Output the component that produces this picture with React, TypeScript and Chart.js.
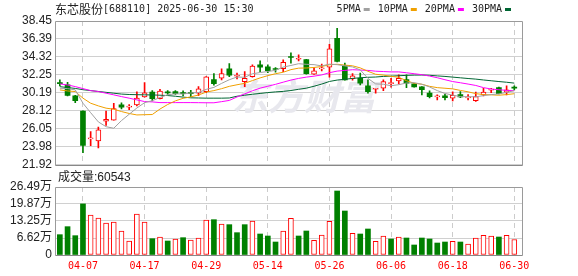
import React, { useEffect, useRef } from 'react';
import { Chart, registerables } from 'chart.js';

Chart.register(...registerables);

const STOCK_NAME = '东芯股份';
const STOCK_CODE = '688110';
const DATE_TIME = '2025-06-30 15:30';

const DATES = [
  '04-01', '04-02', '04-03', '04-07', '04-08', '04-09', '04-10', '04-11', '04-14', '04-15',
  '04-16', '04-17', '04-18', '04-21', '04-22', '04-23', '04-24', '04-25', '04-28', '04-29',
  '04-30', '05-06', '05-07', '05-08', '05-09', '05-12', '05-13', '05-14', '05-15', '05-16',
  '05-19', '05-20', '05-21', '05-22', '05-23', '05-26', '05-27', '05-28', '05-29', '05-30',
  '06-03', '06-04', '06-05', '06-06', '06-09', '06-10', '06-11', '06-12', '06-13', '06-16',
  '06-17', '06-18', '06-19', '06-20', '06-23', '06-24', '06-25', '06-26', '06-27', '06-30',
];

const OPEN = [
  31.35, 31.1, 29.85, 28.1, 24.9, 24.67, 26.93, 27.05, 28.81, 28.55,
  28.81, 29.73, 30.27, 29.53, 30.25, 30.34, 30.2, 30.15, 30.15, 30.34,
  31.72, 31.87, 32.94, 32.1, 31.48, 32.06, 33.4, 33.17, 32.92, 32.98,
  34.3, 34.05, 34.01, 32.33, 32.95, 33.13, 36.46, 33.32, 31.83, 31.87,
  30.99, 30.6, 30.72, 31.25, 31.56, 31.72, 31.22, 30.87, 30.15, 29.72,
  29.84, 29.58, 29.99, 29.62, 29.3, 29.96, 30.5, 30.8, 30.27, 30.78,
];
const CLOSE = [
  31.25, 29.9, 29.3, 24.15, 24.95, 25.94, 27.16, 28.38, 28.55, 28.6,
  29.58, 30.19, 29.53, 30.38, 30.18, 30.11, 30.1, 30.1, 30.64, 32.02,
  31.25, 32.4, 32.21, 32.15, 31.87, 33.28, 33.13, 32.75, 32.88, 33.71,
  34.25, 34.1, 32.4, 32.71, 33.0, 35.24, 33.8, 31.68, 32.14, 31.3,
  30.34, 30.65, 31.48, 31.3, 31.87, 31.3, 30.87, 30.56, 29.76, 29.76,
  29.65, 29.92, 29.73, 29.66, 29.76, 30.27, 30.55, 30.11, 30.53, 30.74,
];
const HIGH = [
  31.68, 31.4, 29.9, 28.12, 25.74, 26.25, 28.1, 29.0, 29.05, 28.85,
  30.3, 31.37, 30.45, 30.6, 30.45, 30.45, 30.42, 30.49, 30.91, 32.05,
  32.4, 32.94, 33.55, 32.45, 32.65, 33.4, 33.86, 33.4, 33.09, 34.0,
  34.78, 34.55, 34.05, 33.1, 33.5, 35.77, 37.6, 33.6, 32.4, 32.45,
  31.68, 30.72, 31.68, 31.87, 32.25, 32.25, 31.25, 30.9, 30.41, 29.96,
  30.03, 30.3, 30.34, 29.99, 30.27, 30.72, 30.72, 30.85, 30.99, 30.99,
];
const LOW = [
  31.0, 29.85, 29.05, 23.3, 24.13, 23.85, 26.45, 27.05, 28.35, 28.25,
  28.7, 29.7, 29.25, 29.5, 30.0, 30.0, 29.85, 29.76, 29.87, 30.2,
  31.07, 31.68, 32.06, 31.8, 30.9, 32.0, 32.63, 32.5, 32.56, 32.63,
  33.6, 33.86, 32.35, 32.3, 32.7, 32.0, 33.75, 31.65, 31.64, 31.1,
  30.15, 30.15, 30.45, 30.85, 31.22, 30.8, 30.85, 29.96, 29.6, 29.38,
  29.38, 29.27, 29.65, 29.38, 29.2, 29.84, 30.22, 30.08, 29.96, 30.53,
];

const MA5 = [
  30.72, 30.68, 30.53, 29.0, 27.91, 26.85, 26.3, 26.12, 27.0, 27.73,
  28.45, 29.06, 29.29, 29.66, 29.97, 30.08, 30.06, 30.17, 30.23, 30.59,
  30.82, 31.28, 31.7, 32.01, 31.98, 32.38, 32.53, 32.64, 32.78, 33.15,
  33.34, 33.54, 33.47, 33.43, 33.29, 33.49, 33.43, 33.29, 33.17, 32.83,
  31.85, 31.22, 31.18, 31.01, 31.13, 31.32, 31.36, 31.18, 30.87, 30.45,
  30.12, 29.93, 29.76, 29.74, 29.74, 29.87, 29.99, 30.07, 30.24, 30.44,
];
const MA10 = [
  30.53, 30.41, 30.34, 29.58, 29.0, 28.69, 28.43, 28.31, 28.04, 27.82,
  27.65, 27.68, 27.7, 28.33, 28.85, 29.27, 29.56, 29.73, 29.94, 30.28,
  30.45, 30.67, 30.94, 31.12, 31.29, 31.6, 31.91, 32.17, 32.39, 32.56,
  32.86, 33.03, 33.05, 33.11, 33.22, 33.42, 33.48, 33.38, 33.3, 33.06,
  32.67, 32.33, 32.23, 32.09, 31.98, 31.59, 31.29, 31.18, 30.94, 30.79,
  30.72, 30.65, 30.47, 30.31, 30.1, 29.99, 29.96, 29.92, 29.99, 30.09,
];
const MA20 = [
  31.22, 31.1, 30.91, 30.68, 30.45, 30.34, 30.15, 29.96, 29.76, 29.58,
  29.38, 29.19, 29.15, 29.07, 29.07, 29.07, 29.07, 29.07, 29.06, 29.05,
  29.05, 29.18, 29.32, 29.72, 30.07, 30.43, 30.73, 30.95, 31.17, 31.42,
  31.66, 31.85, 32.0, 32.11, 32.25, 32.51, 32.69, 32.77, 32.85, 32.81,
  32.77, 32.68, 32.64, 32.6, 32.6, 32.5, 32.39, 32.28, 32.12, 31.93,
  31.7, 31.49, 31.35, 31.2, 31.04, 30.79, 30.63, 30.55, 30.47, 30.44,
];
const MA30 = [
  30.9, 30.8, 30.7, 30.55, 30.45, 30.35, 30.25, 30.15, 30.05, 30.0,
  29.98, 29.96, 29.95, 29.92, 29.88, 29.8, 29.7, 29.62, 29.6, 29.58,
  29.58, 29.58, 29.6, 29.8, 29.92, 30.03, 30.12, 30.22, 30.3, 30.36,
  30.46, 30.6, 30.73, 30.95, 31.2, 31.5, 31.66, 31.75, 31.85, 31.93,
  31.98, 32.01, 32.08, 32.11, 32.16, 32.2, 32.23, 32.24, 32.21, 32.14,
  32.08, 32.0, 31.92, 31.84, 31.77, 31.67, 31.58, 31.49, 31.41, 31.31,
];

// volume in 万 (10k)
const VOLUME = [
  7.92, 11.04, 7.53, 19.9, 15.58, 14.41, 12.47, 12.86, 9.35, 5.45,
  15.97, 12.86, 6.36, 7.01, 5.45, 6.23, 6.75, 5.84, 6.62, 13.63,
  13.76, 12.08, 11.82, 8.7, 11.82, 13.24, 8.18, 7.4, 5.06, 9.35,
  14.28, 7.4, 9.35, 5.71, 7.79, 13.11, 24.93, 17.14, 8.44, 8.18,
  10.13, 5.32, 7.4, 6.23, 7.01, 6.62, 3.9, 6.62, 6.23, 4.67,
  5.06, 5.32, 5.06, 4.29, 6.62, 7.66, 7.4, 7.01, 7.66, 6.0543,
];
// 1 = up (red), 0 = down (green)
const VOLUME_UP = [
  0, 0, 0, 0, 1, 1, 1, 1, 1, 1,
  1, 1, 0, 1, 0, 1, 0, 1, 1, 1,
  0, 1, 0, 0, 0, 1, 0, 0, 0, 1,
  1, 0, 0, 1, 1, 1, 0, 0, 1, 0,
  0, 1, 1, 0, 1, 0, 0, 0, 0, 0,
  0, 1, 0, 1, 1, 1, 1, 0, 1, 1,
];

const PRICE_TICKS = [21.92, 23.98, 26.05, 28.12, 30.19, 32.25, 34.32, 36.39, 38.45];
const VOLUME_TICKS = [0, 6.62, 13.25, 19.87, 26.49];
const X_LABEL_DATES = ['04-07', '04-17', '04-29', '05-14', '05-26', '06-06', '06-18', '06-30'];

const MA_NAMES = ['5PMA', '10PMA', '20PMA', '30PMA'];
const MA_SERIES = [MA5, MA10, MA20, MA30];
const MA_COLORS = ['#a0a0a0', '#f0a000', '#ff00ff', '#006633'];

const RED = '#ff0000';
const GREEN = '#008000';
const TEXT = '#222222';
const SANS = '"Liberation Sans", Arial, "Noto Sans CJK SC", sans-serif';
const MONO = '"DejaVu Sans Mono", monospace';

const framePlugin = {
  id: 'frame',
  afterDatasetsDraw(chart: any) {
    const { ctx, chartArea: a } = chart;
    const l = Math.round(a.left) - 0.5;
    const r = Math.round(a.right) + 0.5;
    const t = Math.round(a.top) + 0.5;
    const b = Math.round(a.bottom) + 0.5;
    ctx.save();
    ctx.lineWidth = 1;
    ctx.strokeStyle = '#9a9a9a';
    ctx.beginPath();
    ctx.moveTo(l, b);
    ctx.lineTo(l, t);
    ctx.lineTo(r, t);
    ctx.lineTo(r, b);
    ctx.stroke();
    ctx.strokeStyle = '#888888';
    ctx.beginPath();
    ctx.moveTo(l, b);
    ctx.lineTo(r, b);
    ctx.stroke();
    ctx.restore();
  },
};

const makeX = (showLabels: boolean, height: number) => ({
  type: 'linear',
  min: -0.5,
  max: DATES.length,
  offset: false,
  afterBuildTicks: (scale: any) => {
    scale.ticks = X_LABEL_DATES.map((d) => ({ value: DATES.indexOf(d) }));
  },
  afterFit: (scale: any) => {
    scale.height = height;
  },
  grid: { color: '#cccccc', offset: false, drawTicks: false, lineWidth: 1 },
  border: { display: false, dash: [5, 4] },
  ticks: {
    display: showLabels,
    autoSkip: false,
    maxRotation: 0,
    minRotation: 0,
    padding: 5,
    color: RED,
    font: { family: MONO, size: 10 },
    callback: (v: any) => DATES[v] ?? '',
  },
});

const makeY = (ticks: number[], fmt: (v: number) => string) => ({
  type: 'linear',
  min: ticks[0],
  max: ticks[ticks.length - 1],
  afterBuildTicks: (scale: any) => {
    scale.ticks = ticks.map((v) => ({ value: v }));
  },
  afterFit: (scale: any) => {
    scale.width = 56;
  },
  grid: { color: '#d0d0d0', drawTicks: false },
  border: { display: false },
  ticks: {
    autoSkip: false,
    padding: 4,
    color: TEXT,
    font: { family: SANS, size: 12 },
    callback: (v: any) => fmt(Number(v)),
  },
});

export default function App() {
  const priceRef = useRef<HTMLCanvasElement>(null);
  const volRef = useRef<HTMLCanvasElement>(null);

  useEffect(() => {
    const up = OPEN.map((o, i) => CLOSE[i] >= o);

    const titlePlugin = {
      id: 'titleLegend',
      afterDraw(chart: any) {
        const ctx = chart.ctx;
        ctx.save();
        ctx.textBaseline = 'middle';
        ctx.textAlign = 'left';
        ctx.fillStyle = TEXT;
        ctx.font = '12px "Noto Sans CJK SC"';
        ctx.fillText(STOCK_NAME, 55, 9.5);
        const w = ctx.measureText(STOCK_NAME).width;
        ctx.font = '10px ' + MONO;
        ctx.fillText(`[${STOCK_CODE}] ${DATE_TIME}`, 55 + w, 9.5);

        // legend: text then colour swatch
        const sq = 6;
        const gapT = 3;
        const gapI = 8;
        const widths = MA_NAMES.map((n) => ctx.measureText(n).width);
        const total = widths.reduce((s, wd) => s + wd + gapT + sq, 0) + gapI * (MA_NAMES.length - 1);
        let x = chart.chartArea.right - 11 - total;
        MA_NAMES.forEach((n, i) => {
          ctx.fillStyle = TEXT;
          ctx.fillText(n, x, 9);
          x += widths[i] + gapT;
          ctx.fillStyle = MA_COLORS[i];
          ctx.fillRect(x, 8, sq, 3);
          x += sq + gapI;
        });
        ctx.restore();
      },
    };

    const watermarkPlugin = {
      id: 'watermark',
      beforeDatasetsDraw(chart: any) {
        const ctx = chart.ctx;
        ctx.save();
        ctx.font = 'italic bold 36px "Noto Sans CJK SC"';
        ctx.fillStyle = '#e8e8ee';
        ctx.textBaseline = 'middle';
        ctx.textAlign = 'left';
        ctx.fillText('东方财富', 232, 96);
        ctx.restore();
      },
    };

    const priceChart = new Chart(priceRef.current as HTMLCanvasElement, {
      type: 'bar',
      data: {
        datasets: [
          ...MA_SERIES.map((s, k) => ({
            type: 'line',
            label: MA_NAMES[k],
            data: s.map((v, i) => ({ x: i, y: v })),
            borderColor: MA_COLORS[k],
            borderWidth: 1,
            pointRadius: 0,
            tension: 0,
            fill: false,
            order: 0,
          })),
          {
            type: 'bar',
            label: 'body',
            data: OPEN.map((o, i) => ({ x: i, y: [o, CLOSE[i]] })),
            backgroundColor: up.map((u) => (u ? '#ffffff' : GREEN)),
            borderColor: up.map((u) => (u ? RED : GREEN)),
            borderWidth: up.map((u) => (u ? 1 : 0)),
            borderSkipped: false,
            barThickness: 5,
            minBarLength: 1,
            grouped: false,
            order: 1,
          },
          {
            type: 'bar',
            label: 'wick',
            data: LOW.map((l, i) => ({ x: i, y: [l, HIGH[i]] })),
            backgroundColor: up.map((u) => (u ? RED : GREEN)),
            borderWidth: 0,
            barThickness: 1,
            grouped: false,
            order: 2,
          },
        ] as any,
      },
      options: {
        responsive: false,
        animation: false,
        events: [],
        layout: { padding: { top: 21, right: 56, bottom: 11, left: 0 } },
        plugins: { legend: { display: false }, tooltip: { enabled: false } },
        scales: {
          x: makeX(false, 0) as any,
          y: makeY(PRICE_TICKS, (v) => v.toFixed(2)) as any,
        },
      },
      plugins: [watermarkPlugin, framePlugin, titlePlugin],
    } as any);

    const volLabelPlugin = {
      id: 'volLabel',
      afterDraw(chart: any) {
        const ctx = chart.ctx;
        ctx.save();
        ctx.textBaseline = 'middle';
        ctx.textAlign = 'left';
        ctx.fillStyle = TEXT;
        ctx.font = '12px ' + SANS;
        const last = Math.round(VOLUME[VOLUME.length - 1] * 10000);
        ctx.fillText('成交量:' + last, 58, 8);
        ctx.restore();
      },
    };

    const volChart = new Chart(volRef.current as HTMLCanvasElement, {
      type: 'bar',
      data: {
        datasets: [
          {
            label: 'volume',
            data: VOLUME.map((v, i) => ({ x: i, y: v })),
            backgroundColor: VOLUME_UP.map((u) => (u ? '#ffffff' : GREEN)),
            borderColor: VOLUME_UP.map((u) => (u ? RED : GREEN)),
            borderWidth: VOLUME_UP.map((u) => (u ? 1 : 0)),
            borderSkipped: false,
            barThickness: 5,
            grouped: false,
          },
        ] as any,
      },
      options: {
        responsive: false,
        animation: false,
        events: [],
        layout: { padding: { top: 17, right: 56, bottom: 0, left: 0 } },
        plugins: { legend: { display: false }, tooltip: { enabled: false } },
        scales: {
          x: makeX(true, 21) as any,
          y: makeY(VOLUME_TICKS, (v) => (v === 0 ? '0' : v.toFixed(2) + '万')) as any,
        },
      },
      plugins: [framePlugin, volLabelPlugin],
    } as any);

    return () => {
      priceChart.destroy();
      volChart.destroy();
    };
  }, []);

  return (
    <div style={{ position: 'absolute', left: 0, top: 0, width: 578, height: 276, background: '#ffffff' }}>
      <canvas ref={priceRef} width={578} height={176} style={{ position: 'absolute', left: 0, top: 0 }} />
      <canvas ref={volRef} width={578} height={106} style={{ position: 'absolute', left: 0, top: 170 }} />
    </div>
  );
}
